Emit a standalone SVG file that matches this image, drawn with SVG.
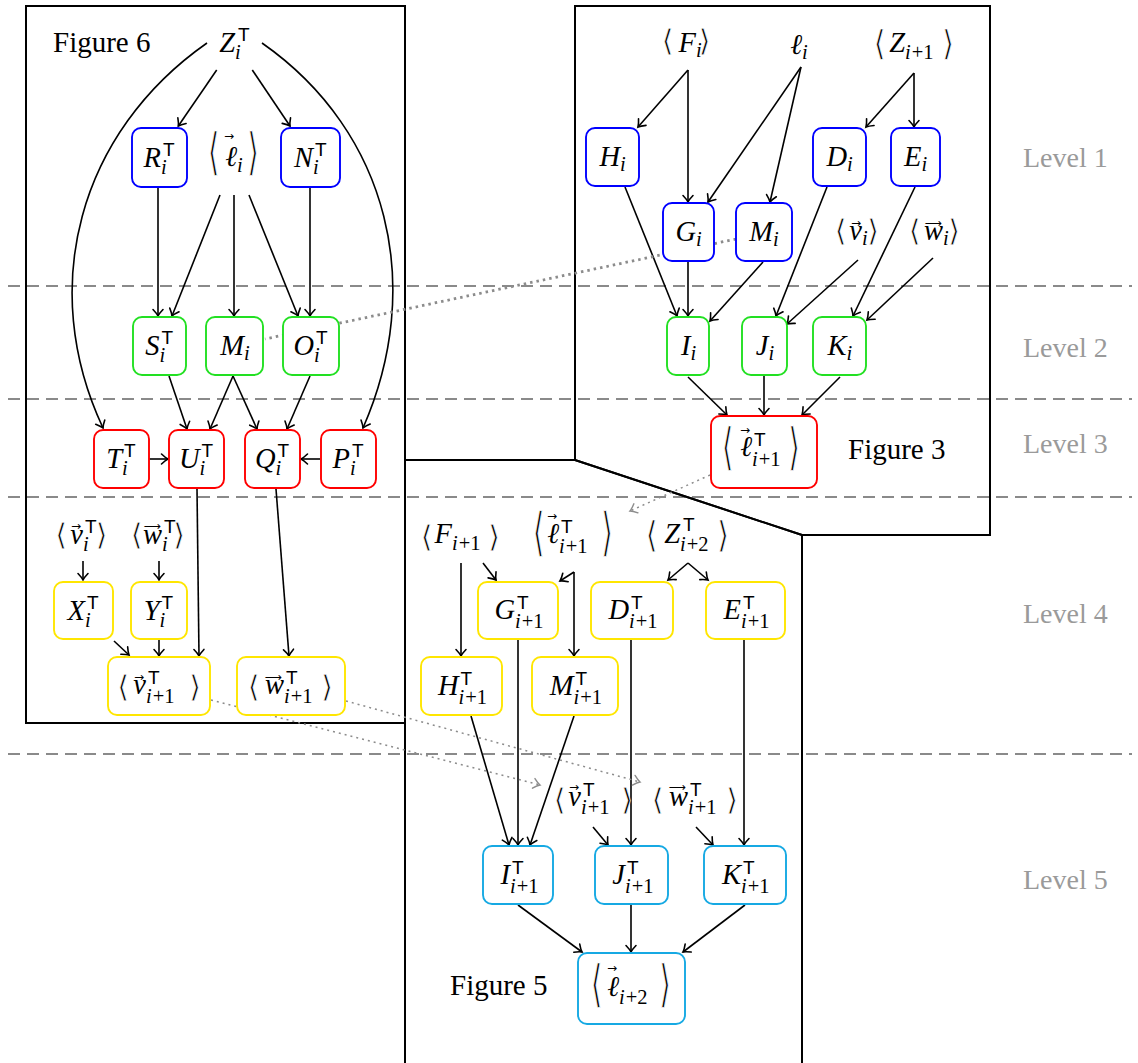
<svg xmlns="http://www.w3.org/2000/svg" width="1138" height="1063" viewBox="0 0 1138 1063">
  <defs>
    <marker id="ar" viewBox="-8 -6 9 12" refX="0" refY="0" markerWidth="9" markerHeight="12" markerUnits="userSpaceOnUse" orient="auto" overflow="visible">
      <path d="M-6.5,-5 Q-2.5,-1.2 0,0 Q-2.5,1.2 -6.5,5" fill="none" stroke="#000" stroke-width="1.6" stroke-linecap="round"/>
    </marker>
    <marker id="arg" viewBox="-8 -6 9 12" refX="0" refY="0" markerWidth="9" markerHeight="12" markerUnits="userSpaceOnUse" orient="auto" overflow="visible">
      <path d="M-6.5,-5 Q-2.5,-1.2 0,0 Q-2.5,1.2 -6.5,5" fill="none" stroke="#8c8c8c" stroke-width="1.4" stroke-linecap="round"/>
    </marker>
  </defs>
  <style>
    .frame { fill: none; stroke: #000; stroke-width: 2; }
    .lvl { stroke: #8a8a8a; stroke-width: 2; stroke-dasharray: 12 7; }
    .lvlt { font-family: "Liberation Serif", serif; font-size: 28px; fill: #9a9a9a; }
    .fig { font-family: "Liberation Serif", serif; font-size: 29px; fill: #000; }
    .e { fill: none; stroke: #000; stroke-width: 1.6; marker-end: url(#ar); }
    .dt { fill: none; stroke: #8c8c8c; stroke-width: 1.5; stroke-dasharray: 2 4; marker-end: url(#arg); }
    .dtk { fill: none; stroke: #8c8c8c; stroke-width: 2.8; stroke-dasharray: 2.5 4; }
    .bx { fill: #fff; stroke-width: 1.9; }
    .b1 { stroke: #0000ff; }
    .b2 { stroke: #22e022; }
    .b3 { stroke: #ff0000; }
    .b4 { stroke: #ffe600; }
    .b5 { stroke: #16a9e3; }
    text { fill: #000; }
    .mi { font-family: "Liberation Serif", "DejaVu Serif", serif; font-style: italic; font-size: 28.5px; }
    .sb { font-family: "Liberation Serif", "DejaVu Serif", serif; font-style: italic; font-size: 20.5px; }
    .n { font-style: normal; }
    .tp { font-family: "Liberation Sans", "DejaVu Sans", sans-serif; font-size: 19px; }
    .br { font-family: "DejaVu Serif", serif; font-size: 30px; text-anchor: middle; stroke: #fff; stroke-width: 0.7px; }
    .va { font-family: "DejaVu Sans", sans-serif; font-size: 12px; text-anchor: middle; }
    .e_ { text-anchor: end; }
  </style>

  <!-- level separators -->
  <g id="levels">
    <line class="lvl" x1="8" y1="286" x2="1132" y2="286"/>
    <line class="lvl" x1="8" y1="399" x2="1132" y2="399"/>
    <line class="lvl" x1="8" y1="497" x2="1132" y2="497"/>
    <line class="lvl" x1="8" y1="754" x2="1132" y2="754"/>
    <text class="lvlt" x="1023" y="167">Level 1</text>
    <text class="lvlt" x="1023" y="357">Level 2</text>
    <text class="lvlt" x="1023" y="453">Level 3</text>
    <text class="lvlt" x="1023" y="623">Level 4</text>
    <text class="lvlt" x="1023" y="889">Level 5</text>
  </g>

  <!-- figure frames -->
  <g id="frames">
    <rect class="frame" x="26" y="6" width="379" height="717"/>
    <polygon class="frame" points="575,6 990,6 990,535 802,535 575,460"/>
    <polyline class="frame" points="405,1070 405,460 575,460 802,535 802,1070"/>
    <text class="fig" x="53" y="52">Figure 6</text>
    <text class="fig" x="848" y="459">Figure 3</text>
    <text class="fig" x="450" y="995">Figure 5</text>
  </g>

  <!-- connectors -->
  <g id="connectors">
    <!-- figure 6 -->
    <path class="e" d="M216.7,70 L178.3,126"/>
    <path class="e" d="M252.3,70 L290,126"/>
    <path class="e" d="M207,43 C79,132.5 37,287 103,428"/>
    <path class="e" d="M262,43 C390,132.5 425,287 363,428"/>
    <path class="e" d="M158,187 L158,316"/>
    <path class="e" d="M220,195 L172,316"/>
    <path class="e" d="M234,195 L234,316"/>
    <path class="e" d="M249,195 L298,316"/>
    <path class="e" d="M310,187 L310,316"/>
    <path class="e" d="M169,376 L187,429"/>
    <path class="e" d="M233,376 L210,429"/>
    <path class="e" d="M233,376 L257,429"/>
    <path class="e" d="M310,376 L287,429"/>
    <path class="e" d="M149,459 L168,459"/>
    <path class="e" d="M320,459 L301,459"/>
    <path class="e" d="M197,489 L199,656"/>
    <path class="e" d="M276,489 L289,656"/>
    <path class="e" d="M83,561 L83,580"/>
    <path class="e" d="M159,561 L159,580"/>
    <path class="e" d="M114,641 L129,655"/>
    <path class="e" d="M159,640 L159,656"/>
    <!-- figure 3 -->
    <path class="e" d="M688,70 L638,127"/>
    <path class="e" d="M688,70 L688,202"/>
    <path class="e" d="M801,67 L708,202"/>
    <path class="e" d="M801,67 L770,202"/>
    <path class="e" d="M914,73 L866,127"/>
    <path class="e" d="M914,73 L914,127"/>
    <path class="e" d="M625,187 L677,316"/>
    <path class="e" d="M688,262 L688,316"/>
    <path class="e" d="M763,262 L710,321"/>
    <path class="e" d="M827,187 L776,316"/>
    <path class="e" d="M858,260 L787,324"/>
    <path class="e" d="M915,187 L853,316"/>
    <path class="e" d="M933,258 L867,320"/>
    <path class="e" d="M688,377 L727,415"/>
    <path class="e" d="M764,376 L764,415"/>
    <path class="e" d="M840,377 L802,415"/>
    <!-- figure 5 -->
    <path class="e" d="M461,563 L461,656"/>
    <path class="e" d="M483,563 L496,580"/>
    <path class="e" d="M574,572 L560,581"/>
    <path class="e" d="M574,572 L574,656"/>
    <path class="e" d="M688,563 L668,580"/>
    <path class="e" d="M688,563 L708,580"/>
    <path class="e" d="M518,640 L518,845"/>
    <path class="e" d="M471,716 L509,845"/>
    <path class="e" d="M574,716 L530,845"/>
    <path class="e" d="M631,640 L631,845"/>
    <path class="e" d="M744,640 L744,845"/>
    <path class="e" d="M593,827 L608,845"/>
    <path class="e" d="M696,827 L713,845"/>
    <path class="e" d="M518,905 L582,952"/>
    <path class="e" d="M631,905 L631,952"/>
    <path class="e" d="M745,905 L683,952"/>
    <!-- cross-figure links -->
    <path class="dtk" d="M736,239 L265,339"/>
    <path class="dt" d="M710,475 L630,511"/>
    <path class="dt" d="M211,700 L540,785"/>
    <path class="dt" d="M346,701 L640,782"/>
  </g>

  <!-- ===== Figure 6 ===== -->
  <g id="f6-Z">
    <text class="mi e_" x="235" y="52">Z</text><text class="sb" x="235" y="59">i</text><text class="tp" x="238" y="41">T</text>
  </g>
  <g id="f6-R">
    <rect class="bx b1" x="132" y="128" width="55" height="59" rx="9"/>
    <text class="mi e_" x="161" y="166.5">R</text><text class="sb" x="161" y="173.5">i</text><text class="tp" x="163" y="155.5">T</text>
  </g>
  <g id="f6-l">
    <text class="br" transform="translate(213.5,169) scale(1,1.7)">⟨</text>
    <text class="mi e_" x="237" y="166">ℓ</text><text class="sb" x="237" y="172">i</text>
    <text class="va" x="229" y="140">→</text>
    <text class="br" transform="translate(253,169) scale(1,1.7)">⟩</text>
  </g>
  <g id="f6-N">
    <rect class="bx b1" x="281" y="128" width="59" height="59" rx="9"/>
    <text class="mi e_" x="313" y="166.5">N</text><text class="sb" x="313" y="173.5">i</text><text class="tp" x="315" y="155.5">T</text>
  </g>
  <g id="f6-S">
    <rect class="bx b2" x="133" y="317" width="53" height="58" rx="9"/>
    <text class="mi e_" x="159.5" y="355">S</text><text class="sb" x="159.5" y="362">i</text><text class="tp" x="161.5" y="344">T</text>
  </g>
  <g id="f6-M">
    <rect class="bx b2" x="206" y="317" width="57" height="58" rx="9"/>
    <text class="mi e_" x="244" y="355">M</text><text class="sb" x="244" y="360">i</text>
  </g>
  <g id="f6-O">
    <rect class="bx b2" x="283" y="317" width="56" height="58" rx="9"/>
    <text class="mi e_" x="314" y="355">O</text><text class="sb" x="314" y="362">i</text><text class="tp" x="316" y="344">T</text>
  </g>
  <g id="f6-T">
    <rect class="bx b3" x="94" y="430" width="55" height="58" rx="9"/>
    <text class="mi e_" x="122" y="468">T</text><text class="sb" x="122" y="475">i</text><text class="tp" x="124" y="457">T</text>
  </g>
  <g id="f6-U">
    <rect class="bx b3" x="169" y="430" width="55" height="58" rx="9"/>
    <text class="mi e_" x="199.5" y="468">U</text><text class="sb" x="199.5" y="475">i</text><text class="tp" x="201.5" y="457">T</text>
  </g>
  <g id="f6-Q">
    <rect class="bx b3" x="245" y="430" width="55" height="58" rx="9"/>
    <text class="mi e_" x="275.5" y="468">Q</text><text class="sb" x="275.5" y="475">i</text><text class="tp" x="277.5" y="457">T</text>
  </g>
  <g id="f6-P">
    <rect class="bx b3" x="321" y="430" width="55" height="58" rx="9"/>
    <text class="mi e_" x="350" y="468">P</text><text class="sb" x="350" y="475">i</text><text class="tp" x="352" y="457">T</text>
  </g>
  <g id="f6-v">
    <text class="br" x="61" y="545">⟨</text>
    <text class="mi e_" x="83" y="544">v</text><text class="sb" x="83" y="551">i</text><text class="tp" x="85" y="533">T</text>
    <text class="va" x="76" y="530">→</text>
    <text class="br" x="101.5" y="545">⟩</text>
  </g>
  <g id="f6-w">
    <text class="br" x="136.5" y="545">⟨</text>
    <text class="mi e_" x="162" y="544">w</text><text class="sb" x="162" y="551">i</text><text class="tp" x="164" y="533">T</text>
    <text class="va" x="152" y="530">⟶</text>
    <text class="br" x="179" y="545">⟩</text>
  </g>
  <g id="f6-X">
    <rect class="bx b4" x="54" y="582" width="59" height="57" rx="9"/>
    <text class="mi e_" x="85" y="619.5">X</text><text class="sb" x="85" y="626.5">i</text><text class="tp" x="87" y="608.5">T</text>
  </g>
  <g id="f6-Y">
    <rect class="bx b4" x="131" y="582" width="56" height="57" rx="9"/>
    <text class="mi e_" x="159.5" y="619.5">Y</text><text class="sb" x="159.5" y="626.5">i</text><text class="tp" x="161.5" y="608.5">T</text>
  </g>
  <g id="f6-v1">
    <rect class="bx b4" x="108" y="657" width="102" height="58" rx="9"/>
    <text class="br" x="123" y="697">⟨</text>
    <text class="mi e_" x="146" y="694">v</text><text class="sb" x="146" y="703">i<tspan class="n" dx="1">+1</tspan></text><text class="tp" x="148" y="684">T</text>
    <text class="va" x="139" y="681">→</text>
    <text class="br" x="195" y="697">⟩</text>
  </g>
  <g id="f6-w1">
    <rect class="bx b4" x="237" y="657" width="108" height="58" rx="9"/>
    <text class="br" x="253.5" y="697">⟨</text>
    <text class="mi e_" x="284" y="694">w</text><text class="sb" x="284" y="703">i<tspan class="n" dx="1">+1</tspan></text><text class="tp" x="286" y="684">T</text>
    <text class="va" x="273" y="681">⟶</text>
    <text class="br" x="327" y="697">⟩</text>
  </g>

  <!-- ===== Figure 3 ===== -->
  <g id="f3-F">
    <text class="br" x="667.5" y="51">⟨</text>
    <text class="mi e_" x="696" y="52">F</text><text class="sb" x="696" y="57">i</text>
    <text class="br" x="704.5" y="51">⟩</text>
  </g>
  <g id="f3-l">
    <text class="mi e_" x="802" y="54">ℓ</text><text class="sb" x="802" y="59">i</text>
  </g>
  <g id="f3-Z">
    <text class="br" transform="translate(879.5,55) scale(1,1.15)">⟨</text>
    <text class="mi e_" x="905" y="52">Z</text><text class="sb" x="905" y="59">i<tspan class="n" dx="1">+1</tspan></text>
    <text class="br" transform="translate(948,55) scale(1,1.15)">⟩</text>
  </g>
  <g id="f3-H">
    <rect class="bx b1" x="586" y="128" width="53" height="58" rx="9"/>
    <text class="mi e_" x="620" y="166">H</text><text class="sb" x="620" y="171">i</text>
  </g>
  <g id="f3-D">
    <rect class="bx b1" x="813" y="128" width="53" height="58" rx="9"/>
    <text class="mi e_" x="847" y="166">D</text><text class="sb" x="847" y="171">i</text>
  </g>
  <g id="f3-E">
    <rect class="bx b1" x="891" y="128" width="49" height="58" rx="9"/>
    <text class="mi e_" x="921.5" y="166">E</text><text class="sb" x="921.5" y="171">i</text>
  </g>
  <g id="f3-G">
    <rect class="bx b1" x="663" y="203" width="51" height="58" rx="9"/>
    <text class="mi e_" x="696" y="241">G</text><text class="sb" x="696" y="246">i</text>
  </g>
  <g id="f3-M">
    <rect class="bx b1" x="736" y="203" width="56" height="58" rx="9"/>
    <text class="mi e_" x="773" y="241">M</text><text class="sb" x="773" y="246">i</text>
  </g>
  <g id="f3-v">
    <text class="br" x="840.5" y="241">⟨</text>
    <text class="mi e_" x="862" y="240">v</text><text class="sb" x="862" y="245">i</text>
    <text class="va" x="856" y="227">→</text>
    <text class="br" x="873" y="241">⟩</text>
  </g>
  <g id="f3-w">
    <text class="br" x="914.5" y="241">⟨</text>
    <text class="mi e_" x="943" y="240">w</text><text class="sb" x="943" y="245">i</text>
    <text class="va" x="933" y="227">⟶</text>
    <text class="br" x="954" y="241">⟩</text>
  </g>
  <g id="f3-I">
    <rect class="bx b2" x="667" y="317" width="42" height="58" rx="9"/>
    <text class="mi e_" x="690.5" y="355">I</text><text class="sb" x="690.5" y="360">i</text>
  </g>
  <g id="f3-J">
    <rect class="bx b2" x="742" y="317" width="45" height="58" rx="9"/>
    <text class="mi e_" x="768.5" y="355">J</text><text class="sb" x="768.5" y="360">i</text>
  </g>
  <g id="f3-K">
    <rect class="bx b2" x="813" y="317" width="53" height="58" rx="9"/>
    <text class="mi e_" x="846.5" y="355">K</text><text class="sb" x="846.5" y="360">i</text>
  </g>
  <g id="f3-l1">
    <rect class="bx b3" x="711" y="416" width="106" height="72" rx="9"/>
    <text class="br" transform="translate(727.5,464) scale(1,1.7)">⟨</text>
    <text class="mi e_" x="752" y="456">ℓ</text><text class="sb" x="752" y="466">i<tspan class="n" dx="1">+1</tspan></text><text class="tp" x="754" y="446">T</text>
    <text class="va" x="745" y="434">→</text>
    <text class="br" transform="translate(794,464) scale(1,1.7)">⟩</text>
  </g>

  <!-- ===== Figure 5 ===== -->
  <g id="f5-F">
    <text class="br" x="426.5" y="547">⟨</text>
    <text class="mi e_" x="452" y="543">F</text><text class="sb" x="452" y="550">i<tspan class="n" dx="1">+1</tspan></text>
    <text class="br" x="494" y="547">⟩</text>
  </g>
  <g id="f5-l">
    <text class="br" transform="translate(538.5,550) scale(1,1.75)">⟨</text>
    <text class="mi e_" x="559" y="543">ℓ</text><text class="sb" x="559" y="553">i<tspan class="n" dx="1">+1</tspan></text><text class="tp" x="561" y="533">T</text>
    <text class="va" x="552" y="520">→</text>
    <text class="br" transform="translate(607,550) scale(1,1.75)">⟩</text>
  </g>
  <g id="f5-Z">
    <text class="br" transform="translate(651.5,547) scale(1,1.2)">⟨</text>
    <text class="mi e_" x="680" y="543">Z</text><text class="sb" x="680" y="551">i<tspan class="n" dx="1">+2</tspan></text><text class="tp" x="683" y="531">T</text>
    <text class="br" transform="translate(723,547) scale(1,1.2)">⟩</text>
  </g>
  <g id="f5-G">
    <rect class="bx b4" x="478" y="582" width="80" height="57" rx="9"/>
    <text class="mi e_" x="515" y="619">G</text><text class="sb" x="515" y="628">i<tspan class="n" dx="1">+1</tspan></text><text class="tp" x="517" y="609">T</text>
  </g>
  <g id="f5-D">
    <rect class="bx b4" x="591" y="582" width="82" height="57" rx="9"/>
    <text class="mi e_" x="629" y="619">D</text><text class="sb" x="629" y="628">i<tspan class="n" dx="1">+1</tspan></text><text class="tp" x="631" y="609">T</text>
  </g>
  <g id="f5-E">
    <rect class="bx b4" x="706" y="582" width="79" height="57" rx="9"/>
    <text class="mi e_" x="741" y="619">E</text><text class="sb" x="741" y="628">i<tspan class="n" dx="1">+1</tspan></text><text class="tp" x="743" y="609">T</text>
  </g>
  <g id="f5-H">
    <rect class="bx b4" x="421" y="657" width="81" height="58" rx="9"/>
    <text class="mi e_" x="458.5" y="695">H</text><text class="sb" x="458.5" y="704">i<tspan class="n" dx="1">+1</tspan></text><text class="tp" x="460.5" y="685">T</text>
  </g>
  <g id="f5-M">
    <rect class="bx b4" x="532" y="657" width="86" height="58" rx="9"/>
    <text class="mi e_" x="573.5" y="695">M</text><text class="sb" x="573.5" y="704">i<tspan class="n" dx="1">+1</tspan></text><text class="tp" x="575.5" y="685">T</text>
  </g>
  <g id="f5-v">
    <text class="br" x="559.5" y="810">⟨</text>
    <text class="mi e_" x="581" y="806">v</text><text class="sb" x="581" y="814">i<tspan class="n" dx="1">+1</tspan></text><text class="tp" x="583" y="796">T</text>
    <text class="va" x="574" y="791">→</text>
    <text class="br" x="627" y="810">⟩</text>
  </g>
  <g id="f5-w">
    <text class="br" x="657.5" y="810">⟨</text>
    <text class="mi e_" x="688" y="806">w</text><text class="sb" x="688" y="814">i<tspan class="n" dx="1">+1</tspan></text><text class="tp" x="690" y="796">T</text>
    <text class="va" x="677" y="791">⟶</text>
    <text class="br" x="732" y="810">⟩</text>
  </g>
  <g id="f5-I">
    <rect class="bx b5" x="483" y="846" width="70" height="58" rx="9"/>
    <text class="mi e_" x="510" y="884">I</text><text class="sb" x="510" y="893">i<tspan class="n" dx="1">+1</tspan></text><text class="tp" x="512" y="874">T</text>
  </g>
  <g id="f5-J">
    <rect class="bx b5" x="595" y="846" width="73" height="58" rx="9"/>
    <text class="mi e_" x="625" y="884">J</text><text class="sb" x="625" y="893">i<tspan class="n" dx="1">+1</tspan></text><text class="tp" x="627" y="874">T</text>
  </g>
  <g id="f5-K">
    <rect class="bx b5" x="704" y="846" width="82" height="58" rx="9"/>
    <text class="mi e_" x="741" y="884">K</text><text class="sb" x="741" y="893">i<tspan class="n" dx="1">+1</tspan></text><text class="tp" x="743" y="874">T</text>
  </g>
  <g id="f5-l2">
    <rect class="bx b5" x="578" y="953" width="107" height="71" rx="9"/>
    <text class="br" transform="translate(596.5,1001) scale(1,1.7)">⟨</text>
    <text class="mi e_" x="619" y="996">ℓ</text><text class="sb" x="619" y="1004">i<tspan class="n" dx="1">+2</tspan></text>
    <text class="va" x="612" y="972">→</text>
    <text class="br" transform="translate(665,1001) scale(1,1.7)">⟩</text>
  </g>
</svg>
